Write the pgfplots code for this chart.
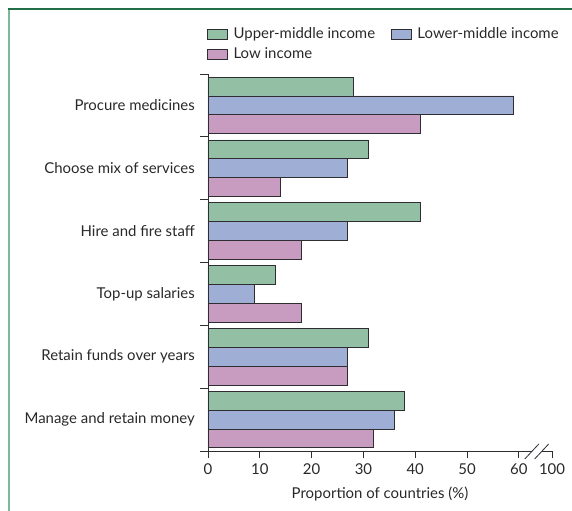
\documentclass[border=0pt]{standalone}
\usepackage{fontspec}
\setmainfont{Lato}
\usepackage{pgfplots}
\pgfplotsset{compat=1.18}
\definecolor{cgreen}{RGB}{147,191,165}
\definecolor{cblue}{RGB}{158,174,213}
\definecolor{cpink}{RGB}{199,156,192}
\definecolor{edge}{RGB}{45,45,50}
\definecolor{txt}{RGB}{40,40,40}
\definecolor{frametop}{RGB}{34,110,72}
\definecolor{frameleft}{RGB}{125,185,152}
\newcommand{\ff}{\fontsize{15}{18}\selectfont}
\begin{document}
\ff
\color{txt}
\begin{tikzpicture}
\path[use as bounding box] (-208bp,-60bp) rectangle (364bp,451bp);
\draw[frameleft, line width=2bp] (-199bp,-60bp) -- (-199bp,442bp);
\draw[frametop, line width=1.5bp] (-200bp,442bp) -- (364bp,442bp);
\begin{axis}[
  scale only axis, width=344bp, height=377bp,
  xmin=0, xmax=66.4, ymin=-0.5, ymax=5.5,
  xbar, bar width=0.3,
  axis lines*=left,
  x axis line style={draw=none},
  y axis line style={draw=edge, line width=0.8bp},
  clip=false,
  tick align=outside,
  xtick={0,10,20,30,40,50,60,66.4},
  xticklabels={0,10,20,30,40,50,60,100},
  x tick style={draw=edge, line width=0.8bp},
  major tick length=7bp,
  ytick={0,1,2,3,4,5},
  yticklabels={Manage and retain money, Retain funds over years, Top-up salaries, Hire and fire staff, Choose mix of services, Procure medicines},
  y tick style={draw=none},
  minor ytick={-0.5,0.5,1.5,2.5,3.5,4.5,5.5},
  minor tick length=8bp,
  minor y tick style={draw=edge, line width=0.8bp},
  y tick label style={xshift=-1bp},
  /pgf/number format/assume math mode=true,
  xlabel={Proportion of countries (\%)},
  xlabel style={yshift=-3bp},
  every axis label/.append style={font=\ff},
  tick label style={font=\ff},
  legend columns=2,
  legend style={draw=none, fill=none, at={(rel axis cs:0,1)}, anchor=south west, yshift=9bp, xshift=-4bp,
    font=\ff, row sep=3bp,
    /tikz/every even column/.append style={column sep=14bp}},
  legend cell align=left,
  legend image code/.code={\draw[#1] (0bp,-5bp) rectangle (20bp,5bp); \path[draw=none,fill=none] (0bp,0bp) -- (24bp,0bp);},
]
\addplot[fill=cgreen, draw=edge, line width=0.8bp, bar shift=0.3] coordinates {(28,5) (31,4) (41,3) (13,2) (31,1) (38,0)};
\addplot[fill=cblue, draw=edge, line width=0.8bp, bar shift=0] coordinates {(59,5) (27,4) (27,3) (9,2) (27,1) (36,0)};
\addplot[fill=cpink, draw=edge, line width=0.8bp, bar shift=-0.3] coordinates {(41,5) (14,4) (18,3) (18,2) (27,1) (32,0)};
\legend{Upper-middle income, Lower-middle income, Low income}
\draw[edge, line width=0.8bp] (axis cs:0,-0.5) -- (axis cs:62.5,-0.5);
\draw[edge, line width=0.8bp] (axis cs:64.4,-0.5) -- (axis cs:66.4,-0.5);
\draw[edge, line width=0.8bp] ([xshift=-7bp,yshift=-8bp]axis cs:62.5,-0.5) -- ([xshift=7bp,yshift=7bp]axis cs:62.5,-0.5);
\draw[edge, line width=0.8bp] ([xshift=-7bp,yshift=-8bp]axis cs:64.4,-0.5) -- ([xshift=7bp,yshift=7bp]axis cs:64.4,-0.5);
\end{axis}
\end{tikzpicture}
\end{document}
